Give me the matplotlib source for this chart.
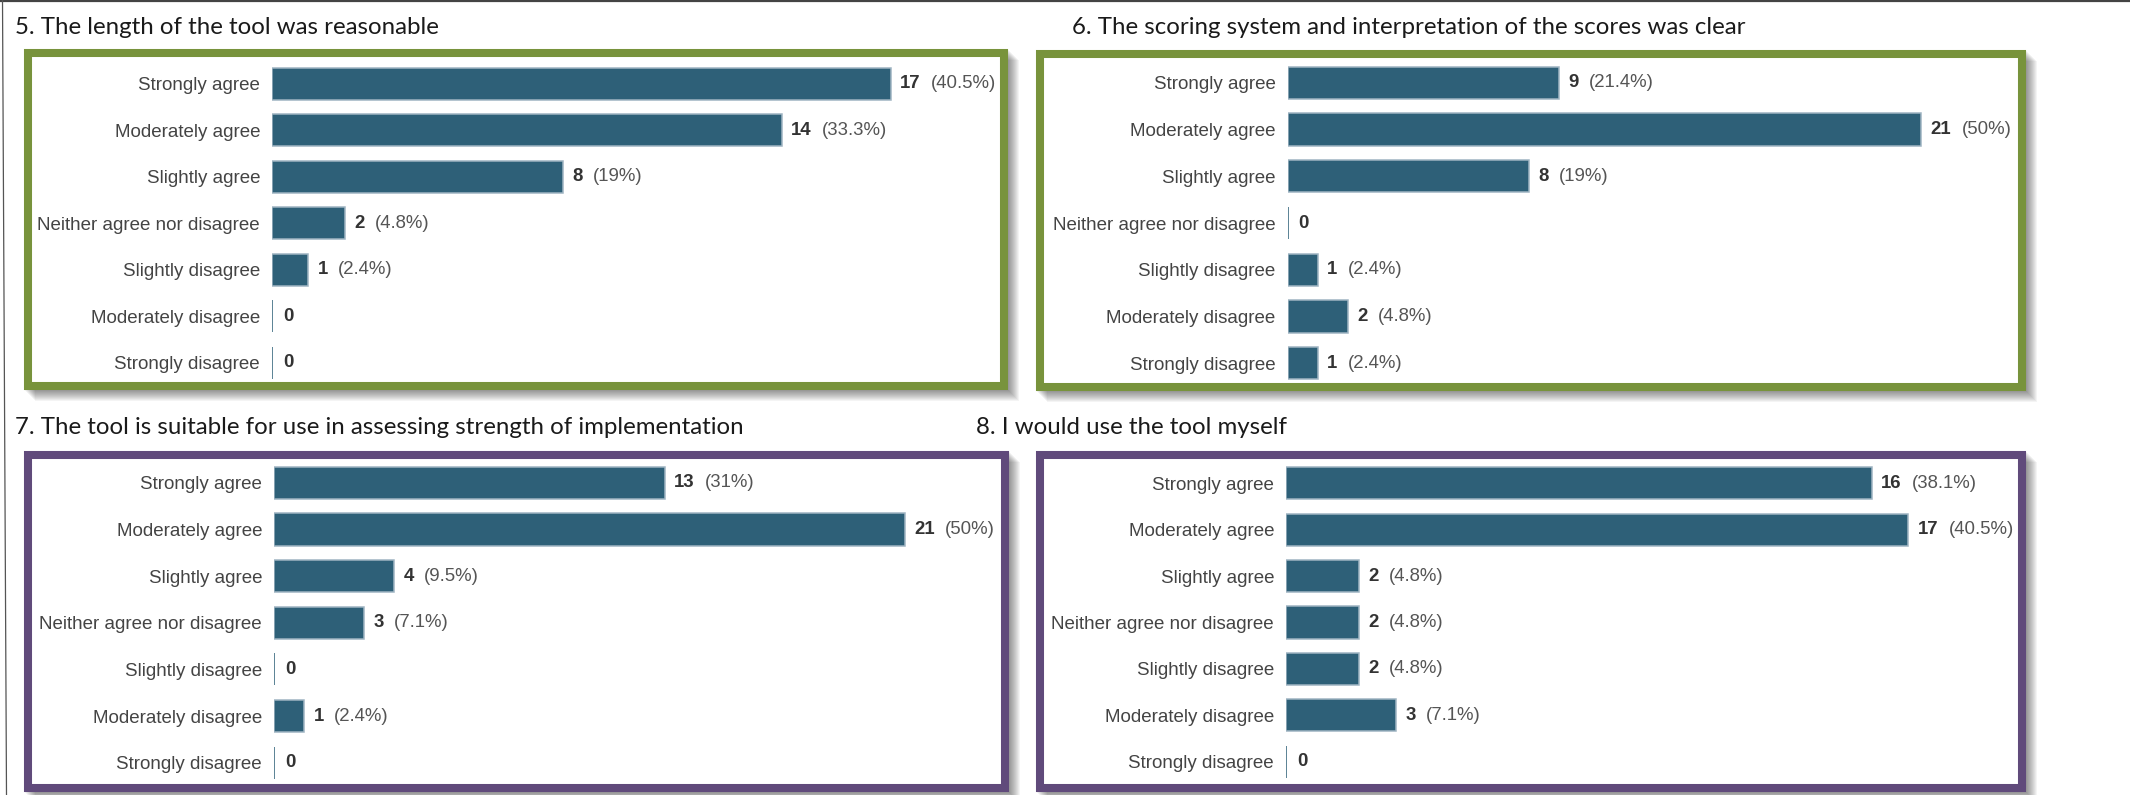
import matplotlib.pyplot as plt
from matplotlib.patches import Rectangle
from matplotlib.lines import Line2D

W, H = 2130, 795

categories = ["Strongly agree", "Moderately agree", "Slightly agree",
              "Neither agree nor disagree", "Slightly disagree",
              "Moderately disagree", "Strongly disagree"]

titles = ["5. The length of the tool was reasonable",
          "6. The scoring system and interpretation of the scores was clear",
          "7. The tool is suitable for use in assessing strength of implementation",
          "8. I would use the tool myself"]

q5 = [17, 14, 8, 2, 1, 0, 0]
q6 = [9, 21, 8, 0, 1, 2, 1]
q7 = [13, 21, 4, 3, 0, 1, 0]
q8 = [16, 17, 2, 2, 2, 3, 0]

bar_color = "#2e6078"
green = "#78933c"
purple = "#604a7b"

plt.rcParams["font.family"] = ["Liberation Sans", "DejaVu Sans"]

fig = plt.figure(figsize=(W / 100, H / 100), dpi=100)


def fx(x):
    return x / W


def fy(y):
    return 1 - y / H


# frame lines of the screenshot
fig.add_artist(Line2D([0, 1], [fy(1), fy(1)], color="#444444", lw=1.6))
fig.add_artist(Line2D([fx(2.5), fx(6.5)], [1, 0], color="#555555", lw=0.9))

# (box l, t, r, b), bar x0, axes right, rows top/bottom, xmax, title pos, colour
layout = [
    ((24, 49, 1008, 390), 272, 1000, 60.5, 386, 20.0, (15, 27), green),
    ((1036, 50, 2026, 391), 1287.5, 2018, 59.5, 386.5, 24.2, (1072, 27), green),
    ((24, 451, 1009, 792), 274, 1001, 459.5, 786, 24.2, (15, 427), purple),
    ((1036, 451, 2026, 792), 1286, 2018, 460, 785, 20.0, (976, 427), purple),
]

for data, title, (box, x0, xr, top, bot, xmax, tpos, col) in zip(
        [q5, q6, q7, q8], titles, layout):
    l, t, r, b = box
    # drop shadow
    for i in range(1, 12):
        fig.add_artist(Rectangle((fx(l + i), fy(b + i)), (r - l) / W, (b - t) / H,
                                 transform=fig.transFigure, facecolor="black",
                                 alpha=0.045, edgecolor="none", zorder=0.5))
    # coloured border
    fig.add_artist(Rectangle((fx(l + 4), fy(b - 4)), (r - l - 8) / W, (b - t - 8) / H,
                             transform=fig.transFigure, facecolor="white",
                             edgecolor=col, lw=5.8, joinstyle="miter", zorder=1))
    fig.text(fx(tpos[0]), fy(tpos[1]), title, family=["Lato", "DejaVu Sans"],
             fontsize=17.3, color="#1a1a1a", ha="left", va="center")

    ax = fig.add_axes([fx(x0), fy(bot), (xr - x0) / W, (bot - top) / H])
    ax.set_zorder(5)
    ax.patch.set_alpha(0)
    n = sum(data)
    rows = range(len(categories))
    edges = ["#9fb4c2" if v > 0 else bar_color for v in data]
    ax.barh(rows, data, height=0.69, color=bar_color, edgecolor=edges, lw=1.1)
    ax.set_xlim(0, xmax)
    ax.set_ylim(len(categories) - 0.5, -0.5)
    ax.set_yticks(list(rows))
    ax.set_yticklabels(categories)
    ax.tick_params(axis="y", length=0, pad=8.6, labelsize=13.5, labelcolor="#444444")
    ax.set_xticks([])
    for s in ax.spines.values():
        s.set_visible(False)

    for i, v in enumerate(data):
        cnt = ax.annotate(str(v), xy=(v, i), xytext=(6.8 if v else 7.8, 0),
                          textcoords="offset points", ha="left", va="center",
                          fontsize=13.4, fontweight="bold", color="#333333")
        if v:
            pct = f"({round(v / n * 100, 1):g}%)"
            ax.annotate(pct, xy=(1, 0), xycoords=cnt, xytext=(7.4, 0),
                        textcoords="offset points", ha="left", va="bottom",
                        fontsize=13.4, color="#555555")

fig.savefig("out.png", dpi=100)
